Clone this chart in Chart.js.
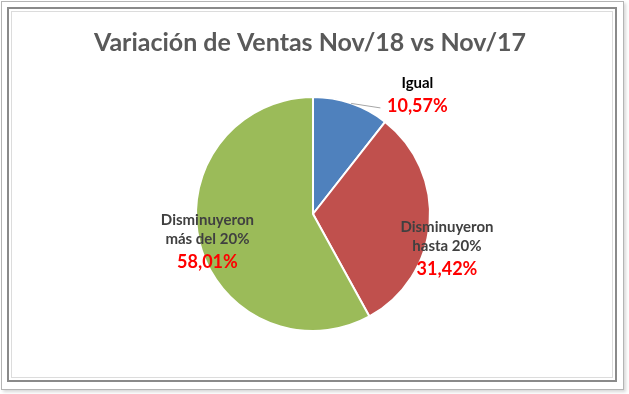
<!DOCTYPE html>
<html>
<head>
<meta charset="utf-8">
<script src="https://cdn.jsdelivr.net/npm/chart.js@4"></script>
<style>
  html, body { margin: 0; padding: 0; background: #fff; }
  #wrap { position: relative; width: 629px; height: 394px; overflow: hidden; }
  #outer { position: absolute; left: 1px; top: 1px; width: 621px; height: 387px;
           border: 1px solid #b4b4b4; box-shadow: 2px 2px 3px #d8d8d8; }
  #dark { position: absolute; left: 7px; top: 7px; width: 606px; height: 371px;
          border: 2px solid #8a8a8a; }
  #inner { position: absolute; left: 11px; top: 11px; width: 600px; height: 365px;
           border: 1px solid #dcdcdc; }
  canvas { position: absolute; left: 0; top: 0; }
</style>
</head>
<body>
<div id="wrap">
  <div id="outer"></div>
  <div id="dark"></div>
  <div id="inner"></div>
  <canvas id="pie" width="629" height="394"></canvas>
</div>
<script>
// ---------------------------
// DATA
// ---------------------------
const titleText = "Variación de Ventas Nov/18 vs Nov/17";
const categories = [["Igual"], ["Disminuyeron", "hasta 20%"], ["Disminuyeron", "más del 20%"]];
const shares = [10.57, 31.42, 58.01];
const shareLabels = ["10,57%", "31,42%", "58,01%"];
const colors = ["#4F81BD", "#C0504D", "#9BBB59"];

// where each label sits: angle (deg, clockwise from top) and distance in radii
const labelPlace = [
  { angle: 41, k: 1.36, color: "#000", leader: true },
  { angle: 104, k: 1.18, color: "#404040", leader: false },
  { angle: 256, k: 0.93, color: "#404040", leader: false }
];

// ---------------------------
// LABELS + TITLE
// ---------------------------
const labelPlugin = {
  id: "labels",
  afterDraw(chart) {
    const ctx = chart.ctx;
    const meta = chart.getDatasetMeta(0);
    ctx.save();

    // title
    ctx.fillStyle = "#595959";
    ctx.font = "bold 25px Lato, 'Open Sans', sans-serif";
    ctx.textAlign = "center";
    ctx.textBaseline = "middle";
    ctx.fillText(titleText, 310, 43);

    meta.data.forEach((arc, i) => {
      const p = labelPlace[i];
      const a = p.angle * Math.PI / 180;
      const r = arc.outerRadius * p.k;
      const x = arc.x + r * Math.sin(a);
      const y = arc.y - r * Math.cos(a);
      const lines = categories[i];
      const lh = 19;
      const total = lines.length * lh + 22;
      let ty = y - total / 2 + lh / 2;

      if (p.leader) {
        const mid = (arc.startAngle + arc.endAngle) / 2;
        ctx.strokeStyle = "#a6a6a6";
        ctx.lineWidth = 1;
        ctx.beginPath();
        ctx.moveTo(arc.x + arc.outerRadius * Math.cos(mid), arc.y + arc.outerRadius * Math.sin(mid));
        ctx.lineTo(x - 37, y + 14);
        ctx.stroke();
      }

      ctx.fillStyle = p.color;
      ctx.font = "bold 15px Lato, 'Open Sans', sans-serif";
      lines.forEach(t => {
        ctx.fillText(t, x, ty);
        ty += lh;
      });
      ctx.fillStyle = "#FF0000";
      ctx.font = "bold 18px Lato, 'Open Sans', sans-serif";
      ctx.fillText(shareLabels[i], x, ty + 4);
    });
    ctx.restore();
  }
};

// ---------------------------
// PIE
// ---------------------------
new Chart(document.getElementById("pie"), {
  type: "pie",
  data: {
    labels: categories.map(c => c.join(" ")),
    datasets: [{
      data: shares,
      backgroundColor: colors,
      borderColor: "#ffffff",
      borderWidth: 2
    }]
  },
  options: {
    responsive: false,
    animation: false,
    layout: { padding: { top: 96, bottom: 62, left: 0, right: 3 } },
    plugins: {
      legend: { display: false },
      tooltip: { enabled: false }
    }
  },
  plugins: [labelPlugin]
});
</script>
</body>
</html>
